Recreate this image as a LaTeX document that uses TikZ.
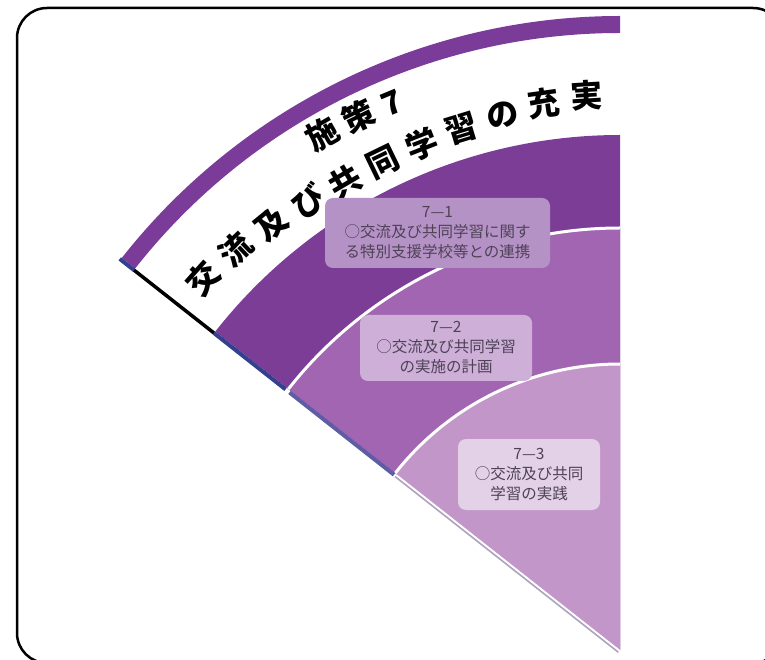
\documentclass[tikz,border=0pt]{standalone}
\usepackage{fontspec}
\newfontfamily\cjk{Noto Sans CJK JP}
\usetikzlibrary{calc}
\definecolor{outerP}{HTML}{7B3B98}
\definecolor{darkP}{HTML}{7B3D96}
\definecolor{midP}{HTML}{A265B1}
\definecolor{lightP}{HTML}{C296C9}
\definecolor{boxA}{HTML}{B592C6}
\definecolor{boxB}{HTML}{CDAFD8}
\definecolor{boxC}{HTML}{E3D1E7}
\definecolor{boxText}{HTML}{4E4256}
\definecolor{edgeBlue}{HTML}{34408F}
\definecolor{edgeBlueB}{HTML}{5E5CA5}
\definecolor{edgeGray}{HTML}{ADA3BC}
\tikzset{
  titlech/.style={font=\cjk\bfseries\fontsize{32}{32}\selectfont, inner sep=0pt, anchor=center},
  infobox/.style={rounded corners=8pt, inner sep=0pt, align=center, text=boxText,
    font=\cjk\fontsize{15.5}{20}\selectfont},
  sep/.style={white, line width=3pt},
}
\begin{document}
\begin{tikzpicture}[x=1pt,y=1pt]
\useasboundingbox (0,0) rectangle (765,659);
\begin{scope}[shift={(620,9)}]
  \coordinate (C) at (0,0);
  % outer band
  \fill[outerP] (141.8:617) arc[start angle=141.8, end angle=90, radius=617]
     -- (90:634) arc[start angle=90, end angle=141.8, radius=634] -- cycle;
  % regions
  \fill[darkP] (C) -- (141.8:515) arc[start angle=141.8, end angle=90, radius=515] -- cycle;
  \fill[midP] (C) -- (141.8:422) arc[start angle=141.8, end angle=90, radius=422] -- cycle;
  \fill[lightP] (C) -- (141.8:286) arc[start angle=141.8, end angle=90, radius=286] -- cycle;
  \draw[sep] (141.8:422) arc[start angle=141.8, end angle=90, radius=422];
  \draw[sep] (141.8:286) arc[start angle=141.8, end angle=90, radius=286];
  % left edge lines
  \begin{scope}[shift={(231.8:2)}]
    \draw[edgeBlue, line width=4pt] (141.8:617) -- (141.8:635);
    \draw[black, line width=3.5pt] (141.8:515) -- (141.8:617);
    \draw[edgeBlue, line width=4pt] (141.8:424) -- (141.8:515);
    \draw[edgeBlueB, line width=4pt] (141.8:286) -- (141.8:419);
  \end{scope}
  \draw[white, line width=2pt] ($(141.8:284)+(231.8:1)$) -- ($(C)+(231.8:1)$);
  \draw[edgeGray, line width=1.6pt] ($(141.8:284)+(231.8:2.8)$) -- ($(C)+(231.8:2.8)$);
  % title
  \foreach \a/\r/\c [count=\i] in {119.96/596/施, 116.1/594/策, 112.6/592/7}
    \node[titlech, rotate=\a-90] (ta\i) at (\a:\r) {\c};
  \foreach \a/\r/\c [count=\i] in {138.3/558/交, 133.8/555/流, 129.3/550/及, 124.8/546/び,
      120.4/543/共, 115.9/542/同, 111.4/543/学, 106.9/545/習, 102.4/548/の, 97.9/552/充, 93.4/556/実}
    \node[titlech, rotate=\a-90] (tb\i) at (\a:\r) {\c};
\end{scope}
% boxes
\node[infobox, fill=boxA, minimum width=225pt, minimum height=70pt] (b1) at (437.5,426)
  {7—1\\○交流及び共同学習に関す\\る特別支援学校等との連携};
\node[infobox, fill=boxB, minimum width=172pt, minimum height=66pt] (b2) at (446,311)
  {7—2\\○交流及び共同学習\\の実施の計画};
\node[infobox, fill=boxC, minimum width=142pt, minimum height=71pt] (b3) at (529,184.5)
  {7—3\\○交流及び共同\\学習の実践};
% frame
\begin{scope}
  \clip (0,0) rectangle (765,659);
  \draw[line width=2.5pt, rounded corners=30pt] (17,-4) rectangle (783,651);
\end{scope}
\end{tikzpicture}
\end{document}
